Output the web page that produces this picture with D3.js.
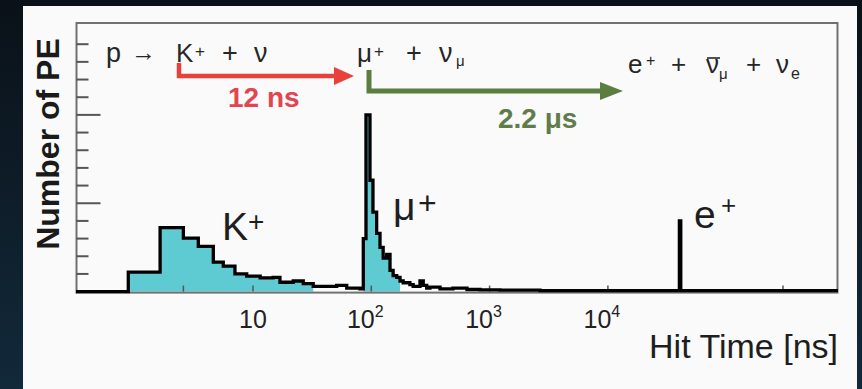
<!DOCTYPE html>
<html><head><meta charset="utf-8">
<script src="https://cdn.jsdelivr.net/npm/d3@7"></script>
<style>
html,body{margin:0;padding:0;width:862px;height:389px;overflow:hidden;background:#0c1620;}
svg{display:block;}
text{font-family:"Liberation Sans",Arial,sans-serif;}
</style></head><body>
<svg id="c" width="862" height="389"></svg>
<script>
// ---- data (hit time in ns, number of PE in arbitrary units) ----
const binEdges = [0.319, 0.883, 1.64, 2.58, 3.45, 4.62, 5.61, 7.04, 8.85, 11.5, 14.8, 16.9, 21.9, 26.6, 32.3, 51, 62, 80.2, 85.6, 90.2, 97.5, 103.3, 111, 118.5, 126, 135, 144, 153, 164, 175, 186, 212, 226, 258, 275, 294, 313, 381, 490, 644, 830, 1224, 2670, 8580, 40200, 41300, 880000];
const peCounts = [0, 1.1, 3.62, 3.03, 2.56, 1.67, 1.44, 1.0, 0.875, 0.78, 0.8, 0.53, 0.6, 0.45, 0.3, 0.35, 0.2, 0.15, 3.0, 10.0, 6.3, 4.5, 3.3, 2.5, 1.9, 2.1, 1.2, 0.9, 0.8, 0.6, 0.5, 0.4, 0.3, 0.6, 0.35, 0.2, 0.25, 0.15, 0.2, 0.12, 0.1, 0.08, 0.06, 0.05, 4.0, 0.05];
const filledRanges = [[0.88, 30], [85, 180]];
const xTickValues = [10, 100, 1000, 10000];
const xTickBase = ["10", "10", "10", "10"];
const xTickExp = ["", "2", "3", "4"];
const xMinorTickValues = [2.58, 302000];
const yTickValues = d3.range(0, 15);
const yMajorTickValues = [0, 5, 10];
const particleLabels = [{base: "K", sup: "+"}, {base: "\u03bc", sup: "+"}, {base: "e", sup: "+"}];

const W = 862, H = 389;
const svg = d3.select("#c");
const defs = svg.append("defs");
const g = defs.append("linearGradient").attr("id", "bg").attr("x1", 0).attr("y1", 0).attr("x2", 0).attr("y2", 1);
g.append("stop").attr("offset", "0%").attr("stop-color", "#0a1118");
g.append("stop").attr("offset", "100%").attr("stop-color", "#12293a");
svg.append("rect").attr("width", W).attr("height", H).attr("fill", "url(#bg)");
svg.append("rect").attr("x", 23).attr("y", 6).attr("width", 834).attr("height", 390).attr("fill", "#fafafa");

const L = 76.5, R = 837.5, T = 23, B = 291.6;
const x = d3.scaleLog().domain([Math.pow(10, -0.496), Math.pow(10, 5.945)]).range([76, 838]);
const y = d3.scaleLinear().domain([0, 15.2]).range([B, T]);

// fills (one step area per component)
const bins = peCounts.map((c, i) => ({x0: binEdges[i], x1: binEdges[i + 1], c}));
const area = d3.area().x(d => x(d[0])).y0(y(0)).y1(d => y(d[1])).curve(d3.curveStepAfter);
filledRanges.forEach(r => {
  const sel = bins.filter(b => Math.sqrt(b.x0 * b.x1) >= r[0] && Math.sqrt(b.x0 * b.x1) <= r[1]);
  const p = sel.map(b => [b.x0, b.c]);
  p.push([sel[sel.length - 1].x1, sel[sel.length - 1].c]);
  svg.append("path").attr("d", area(p)).attr("fill", "#5ecad2");
});

// frame
svg.append("rect").attr("x", L).attr("y", T).attr("width", R - L).attr("height", B + 1 - T)
  .attr("fill", "none").attr("stroke", "#707070").attr("stroke-width", 2);

// y ticks
svg.append("g").selectAll("line").data(yTickValues).join("line")
  .attr("x1", L).attr("x2", d => L + (yMajorTickValues.includes(d) ? 24 : 12))
  .attr("y1", d => y(d)).attr("y2", d => y(d))
  .attr("stroke", "#555").attr("stroke-width", 2);

// x ticks
svg.append("g").selectAll("line").data(xTickValues.concat(xMinorTickValues)).join("line")
  .attr("x1", d => x(d)).attr("x2", d => x(d)).attr("y1", B).attr("y2", B - 6)
  .attr("stroke", "#555").attr("stroke-width", 1.5);

// histogram outline
const pts = binEdges.map((e, i) => [e, peCounts[Math.min(i, peCounts.length - 1)]]);
const line = d3.line().x(d => x(d[0])).y(d => y(d[1])).curve(d3.curveStepAfter);
svg.append("path").attr("d", line(pts)).attr("fill", "none").attr("stroke", "#000")
  .attr("stroke-width", 3.3).attr("stroke-linejoin", "miter");

// x tick labels
const xl = svg.append("g").selectAll("text").data(xTickValues).join("text")
  .attr("x", (d, i) => x(d) + (xTickExp[i] ? -6 : 0)).attr("y", 328)
  .attr("text-anchor", "middle").attr("font-size", 25).attr("fill", "#222");
xl.append("tspan").text((d, i) => xTickBase[i]);
xl.append("tspan").attr("font-size", 16).attr("dy", -11).text((d, i) => xTickExp[i]);

// axis titles
svg.append("text").attr("x", 838).attr("y", 358).attr("text-anchor", "end")
  .attr("font-size", 34).attr("fill", "#1e1e1e").text("Hit Time [ns]");
svg.append("text").attr("transform", "translate(59,144) rotate(-90)").attr("text-anchor", "middle")
  .attr("font-size", 32).attr("font-weight", "bold").attr("fill", "#1a1a1a").text("Number of PE");

// particle labels
const plPos = [[222, 240, 248, 231, 28], [393, 220, 418, 214, 32], [694, 228, 721, 214, 26]];
particleLabels.forEach((p, i) => {
  const q = plPos[i];
  svg.append("text").attr("x", q[0]).attr("y", q[1]).attr("font-size", 39).attr("fill", "#1e1e1e").text(p.base);
  svg.append("text").attr("x", q[2]).attr("y", q[3]).attr("font-size", q[4]).attr("fill", "#1e1e1e").text(p.sup);
});

// reaction annotations
function tx(xx, yy, s, size) {
  return svg.append("text").attr("x", xx).attr("y", yy).attr("font-size", size).attr("fill", "#262626").text(s);
}
tx(106, 62, "p", 27);
tx(131, 61, "\u2192", 25).attr("font-weight", "bold");
tx(176, 62, "K", 26);
tx(195, 57, "+", 17);
tx(222, 62, "+", 27);
tx(254, 62, "\u03bd", 27);
tx(357, 62, "\u03bc", 26);
tx(374, 57, "+", 17);
tx(406, 62, "+", 27);
tx(439, 62, "\u03bd", 27);
tx(456, 66, "\u03bc", 15);
tx(628, 73, "e", 26);
tx(646, 66, "+", 16);
tx(671, 73, "+", 26);
tx(706, 73, "\u03bd", 26);
svg.append("line").attr("x1", 707).attr("x2", 720).attr("y1", 58).attr("y2", 58).attr("stroke", "#262626").attr("stroke-width", 1.6);
tx(719, 79, "\u03bc", 15);
tx(746, 73, "+", 26);
tx(776, 73, "\u03bd", 26);
tx(791, 79, "e", 16);

// arrows
svg.append("path").attr("d", "M179,63V76H338").attr("fill", "none").attr("stroke", "#e8413b").attr("stroke-width", 4.5);
svg.append("path").attr("d", "M334,67L354,76L334,85Z").attr("fill", "#e8413b");
svg.append("path").attr("d", "M369,70V91H604").attr("fill", "none").attr("stroke", "#5b7d3f").attr("stroke-width", 5);
svg.append("path").attr("d", "M600,82L623,91L600,100Z").attr("fill", "#5b7d3f");
svg.append("text").attr("x", 228).attr("y", 107).attr("font-size", 28).attr("font-weight", "bold").attr("fill", "#e2454f").text("12 ns");
svg.append("text").attr("x", 498).attr("y", 128).attr("font-size", 28).attr("font-weight", "bold").attr("fill", "#5f7d48").text("2.2 \u03bcs");
</script>
</body></html>
